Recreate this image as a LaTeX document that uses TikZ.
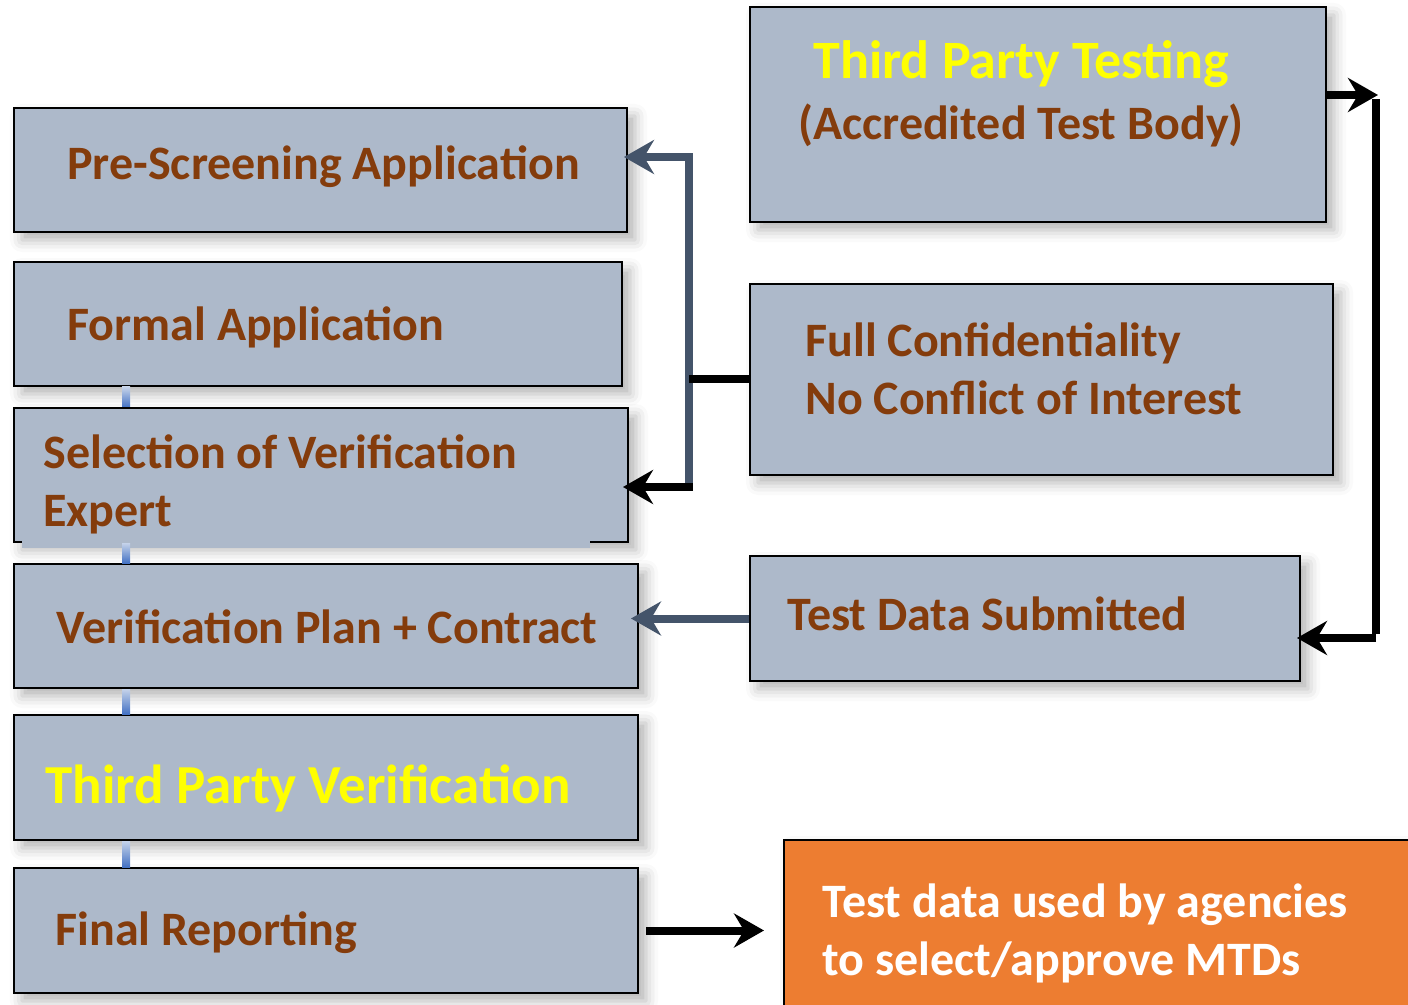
\documentclass[tikz,border=0pt]{standalone}
\usepackage{fontspec}
\setmainfont{Carlito}
\usetikzlibrary{arrows.meta,shadows.blur,fit}

\definecolor{boxgray}{HTML}{ADB9CA}
\definecolor{txtbrown}{HTML}{843C0C}
\definecolor{txtyellow}{HTML}{FFFF00}
\definecolor{outorange}{HTML}{ED7D31}
\definecolor{slate}{HTML}{44546A}
\definecolor{barlight}{HTML}{C5D3EA}
\definecolor{bardark}{HTML}{4472C4}

\tikzset{
  stage/.style={draw=black, line width=1pt, fill=boxgray, inner sep=0pt,
    blur shadow={shadow xshift=4pt, shadow yshift=-4pt, shadow blur radius=6pt, shadow opacity=30}},
  outcome/.style={stage, fill=outorange},
  lbl/.style={anchor=west, inner sep=0pt, align=left, text=txtbrown,
    font=\fontsize{24}{29}\selectfont\bfseries},
  bar/.style={top color=barlight, bottom color=bardark},
  slatearrow/.style={draw=slate, line width=4pt, -{Stealth[length=15pt,width=17pt,inset=5pt]}},
  blackarrow/.style={draw=black, line width=4pt, -{Stealth[length=15pt,width=17pt,inset=5pt]}},
  blackline/.style={draw=black, line width=4pt},
}

\begin{document}
\begin{tikzpicture}[x=0.5pt,y=-0.5pt]
  \useasboundingbox (0,0) rectangle (1408,1005);

  % left column: the verification stages
  \node[stage, fit={(14,108) (627,232)}] (pre) {};
  \node[stage, fit={(14,262) (622,386)}] (form) {};
  \node[stage, fit={(14,408) (628,542)}] (sel) {};
  \fill[boxgray] (22,540) rectangle (590,548);
  \node[stage, fit={(14,564) (638,688)}] (plan) {};
  \node[stage, fit={(14,715) (638,840)}] (verif) {};
  \node[stage, fit={(14,868) (638,993)}] (final) {};

  \node[lbl] (preT) at (67,167) {Pre-Screening Application};
  \node[lbl] (formT) at (67,327) {Formal Application};
  \node[lbl] (selT) at (43,484) {Selection of Verification\\Expert};
  \node[lbl] (planT) at (56,627) {Verification Plan + Contract};
  \node[lbl, text=txtyellow, font=\fontsize{27.5}{29}\selectfont\bfseries] (verifT) at (45,788) {Third Party Verification};
  \node[lbl] (finalT) at (55,933) {Final Reporting};

  % small links down the column
  \coordinate (bx) at (126,0);
  \shade[bar] ([xshift=-2pt]form.south -| bx) rectangle ([xshift=2pt]sel.north -| bx);
  \shade[bar] ([xshift=-2pt]sel.south -| bx) rectangle ([xshift=2pt]plan.north -| bx);
  \shade[bar] ([xshift=-2pt]plan.south -| bx) rectangle ([xshift=2pt]verif.north -| bx);
  \shade[bar] ([xshift=-2pt]verif.south -| bx) rectangle ([xshift=2pt]final.north -| bx);

  % right column
  \node[stage, fit={(750,7) (1326,222)}] (test) {};
  \node[stage, fit={(750,284) (1333,475)}] (conf) {};
  \node[stage, fit={(750,556) (1300,681)}] (data) {};
  \node[outcome, fit={(784,840) (1430,1030)}] (use) {};

  \node[lbl, anchor=center, align=center, font=\fontsize{24}{30.5}\selectfont\bfseries] (testT) at (1021,94)
    {\textcolor{txtyellow}{\fontsize{27}{30.5}\selectfont Third Party Testing}\\(Accredited Test Body)};
  \node[lbl] (confT) at (805,369) {Full Confidentiality\\No Conflict of Interest};
  \node[lbl] (dataT) at (787,614) {Test Data Submitted};
  \node[lbl, text=white] (useT) at (822,933) {Test data used by agencies\\to select/approve MTDs};

  % bracket from the confidentiality box
  \coordinate (sTop) at (689,157);
  \coordinate (sBot) at (689,487);
  \draw[slatearrow] (sBot) -- (sTop) -- ([xshift=-2pt]sTop -| pre.east);
  \draw[blackarrow] ([xshift=2pt]sBot) -- ([xshift=-3pt]sBot -| sel.east);
  \draw[blackline] (sBot |- conf.west) -- (conf.west);

  \draw[slatearrow] (data.west) -- ([xshift=-4pt]data.west -| plan.east);

  % bracket from testing back to the submitted data
  \coordinate (rTop) at (1376,95);
  \coordinate (rBot) at (1376,638);
  \draw[blackline] ([yshift=-2pt]rTop) -- ([yshift=2pt]rBot);
  \draw[blackarrow] (rTop -| test.east) -- ([xshift=1pt]rTop);
  \draw[blackarrow] (rBot) -- ([xshift=-2pt]rBot -| data.east);

  \draw[blackarrow] ([xshift=3.5pt]final.east) -- ([xshift=-9.5pt]final.east -| use.west);
\end{tikzpicture}
\end{document}
